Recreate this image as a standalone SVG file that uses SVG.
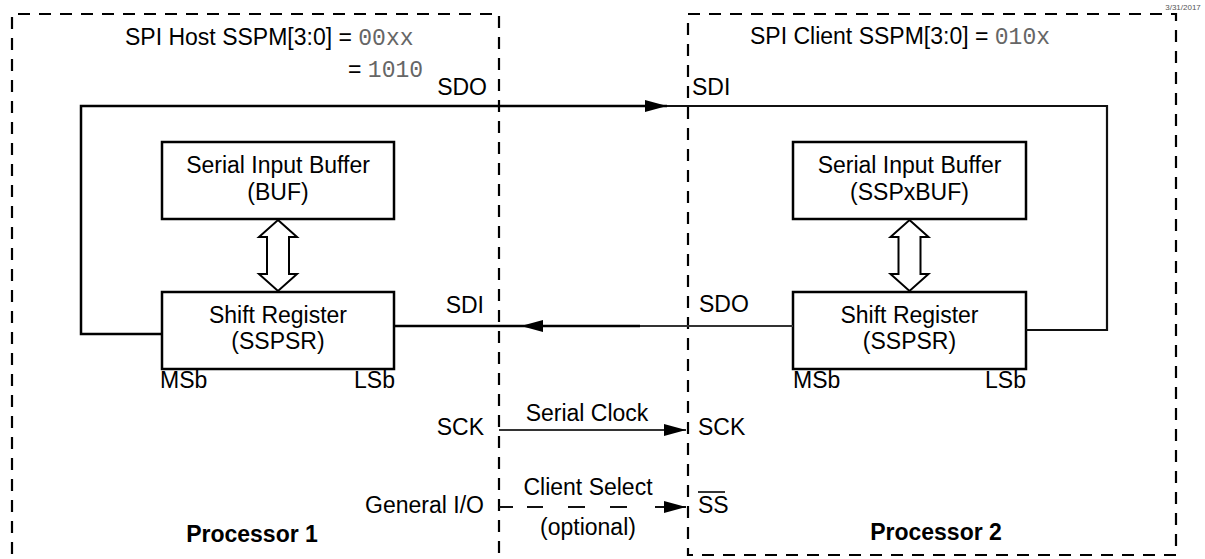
<svg xmlns="http://www.w3.org/2000/svg" width="1205" height="559" viewBox="0 0 1205 559">
<style>
text{font-family:"Liberation Sans",Arial,sans-serif;font-size:23px;fill:#000}
.mono{font-family:"Liberation Mono","Courier New",monospace;fill:#666}
.b{font-weight:bold}
.box{fill:#fff;stroke:#000;stroke-width:2.5}
.dash{fill:none;stroke:#000;stroke-width:2.2;stroke-dasharray:12 9}
.w{fill:none;stroke:#000;stroke-width:2.5}
.g{fill:none;stroke:#333;stroke-width:1.8}
.dbl{fill:#fff;stroke:#000;stroke-width:2}
</style>
<defs>
<marker id="ah" markerWidth="22" markerHeight="12" refX="22" refY="6" orient="auto" markerUnits="userSpaceOnUse">
<path d="M0,0 L22,6 L0,12 Z" fill="#000"/>
</marker>
</defs>
<text x="1183" y="10" style="font-size:8px;fill:#555" text-anchor="middle">3/31/2017</text>
<g id="processor1">
<path class="dash" d="M12,575 V14 H499 V575"/>
<text x="125" y="45">SPI Host SSPM[3:0] = <tspan class="mono">00xx</tspan></text>
<text x="348" y="77">= <tspan class="mono">1010</tspan></text>
<text x="252" y="542" text-anchor="middle" class="b">Processor 1</text>
</g>
<g id="processor2">
<rect class="dash" x="688" y="14" width="488" height="541"/>
<text x="750" y="44">SPI Client SSPM[3:0] = <tspan class="mono">010x</tspan></text>
<text x="936" y="540" text-anchor="middle" class="b">Processor 2</text>
</g>
<g id="buf1">
<rect class="box" x="162" y="142" width="232" height="77"/>
<text x="278" y="173" text-anchor="middle">Serial Input Buffer</text>
<text x="278" y="200" text-anchor="middle">(BUF)</text>
</g>
<g id="sr1">
<rect class="box" x="162" y="292" width="232" height="77"/>
<text x="278" y="323" text-anchor="middle">Shift Register</text>
<text x="278" y="349" text-anchor="middle">(SSPSR)</text>
<text x="160" y="388">MSb</text>
<text x="395" y="388" text-anchor="end">LSb</text>
</g>
<g id="buf2">
<rect class="box" x="793" y="142" width="233" height="77"/>
<text x="909.5" y="173" text-anchor="middle">Serial Input Buffer</text>
<text x="909.5" y="200" text-anchor="middle">(SSPxBUF)</text>
</g>
<g id="sr2">
<rect class="box" x="793" y="292" width="233" height="77"/>
<text x="909.5" y="323" text-anchor="middle">Shift Register</text>
<text x="909.5" y="349" text-anchor="middle">(SSPSR)</text>
<text x="793" y="388">MSb</text>
<text x="1026" y="388" text-anchor="end">LSb</text>
</g>
<g id="connectors">
<polygon class="dbl" points="278,220 297,237 289,237 289,274 297,274 278,291 259,274 267,274 267,237 259,237"/>
<polygon class="dbl" points="909.5,220 928.5,237 920.5,237 920.5,274 928.5,274 909.5,291 890.5,274 898.5,274 898.5,237 890.5,237"/>
<path class="w" d="M162,334 H81 V106 H667" marker-end="url(#ah)"/>
<path class="g" d="M667,106 H1107 V330 H1026" style="stroke:#111;stroke-width:2.2"/>
<path class="g" d="M793,326 H640"/>
<path class="w" d="M640,326 H521" marker-end="url(#ah)"/>
<path class="w" d="M521,326 H394"/>
<path class="g" d="M499,430 H686" marker-end="url(#ah)"/>
<path class="g" d="M499,507 H686" style="stroke:#111;stroke-width:2" stroke-dasharray="14 14 16 25 17 25 17 28 60" marker-end="url(#ah)"/>
</g>
<g id="labels">
<text x="487" y="95" text-anchor="end">SDO</text>
<text x="692" y="95">SDI</text>
<text x="484" y="313" text-anchor="end">SDI</text>
<text x="699" y="312">SDO</text>
<text x="484" y="435" text-anchor="end">SCK</text>
<text x="698" y="435">SCK</text>
<text x="587" y="421" text-anchor="middle">Serial Clock</text>
<text x="484" y="513" text-anchor="end">General I/O</text>
<text x="698" y="513">SS</text>
<line x1="698" y1="492" x2="725" y2="492" stroke="#000" stroke-width="1.6"/>
<text x="588" y="495" text-anchor="middle">Client Select</text>
<text x="588" y="535" text-anchor="middle">(optional)</text>
</g>
</svg>
